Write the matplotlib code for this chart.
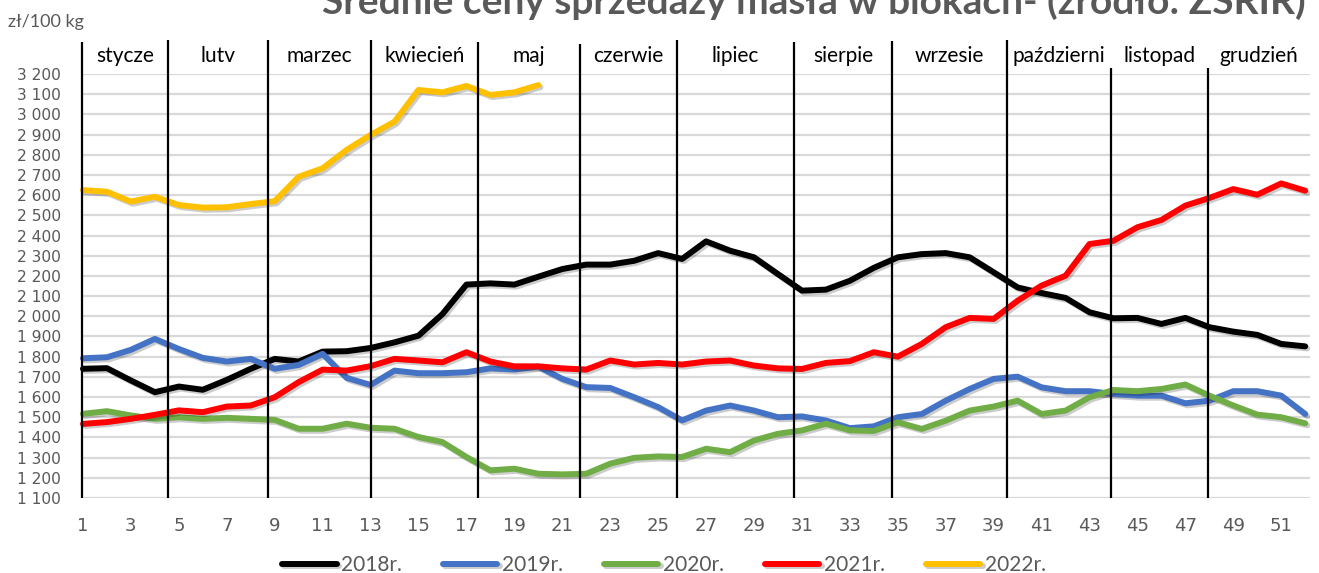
import matplotlib
matplotlib.use('Agg')
import matplotlib.pyplot as plt
import matplotlib.patheffects as pe

plt.rcParams['font.family'] = ['Lato', 'DejaVu Sans']

weeks = list(range(1, 53))
s2018 = [1740, 1743, 1682, 1624, 1652, 1636, 1685, 1740, 1789, 1776,
         1825, 1827, 1843, 1871, 1904, 2011, 2157, 2163, 2157, 2196,
         2234, 2256, 2256, 2275, 2313, 2284, 2371, 2325, 2292, 2209,
         2127, 2132, 2176, 2240, 2292, 2308, 2313, 2292, 2218, 2143,
         2115, 2091, 2020, 1990, 1992, 1962, 1992, 1946, 1924, 1908,
         1863, 1851]
s2019 = [1792, 1797, 1834, 1888, 1838, 1794, 1776, 1789, 1740, 1759,
         1814, 1695, 1660, 1731, 1718, 1718, 1723, 1742, 1736, 1751,
         1690, 1649, 1645, 1599, 1550, 1484, 1533, 1558, 1533, 1500,
         1504, 1484, 1446, 1455, 1500, 1516, 1582, 1640, 1690, 1701,
         1648, 1629, 1629, 1615, 1607, 1607, 1569, 1582, 1629, 1629,
         1607, 1516]
s2020 = [1517, 1530, 1509, 1492, 1500, 1492, 1497, 1492, 1487, 1443,
         1443, 1468, 1448, 1443, 1402, 1377, 1303, 1237, 1245, 1220,
         1217, 1220, 1270, 1299, 1306, 1303, 1344, 1327, 1385, 1418,
         1435, 1468, 1435, 1432, 1475, 1442, 1483, 1533, 1553, 1582,
         1516, 1533, 1599, 1635, 1629, 1640, 1662, 1607, 1558, 1513,
         1500, 1470]
s2021 = [1467, 1476, 1492, 1512, 1534, 1525, 1553, 1558, 1599, 1674,
         1736, 1731, 1753, 1789, 1781, 1772, 1822, 1776, 1752, 1752,
         1742, 1736, 1781, 1761, 1769, 1761, 1776, 1781, 1756, 1742,
         1739, 1769, 1778, 1822, 1800, 1863, 1946, 1992, 1987, 2077,
         2152, 2201, 2358, 2374, 2441, 2477, 2548, 2586, 2630, 2602,
         2658, 2622]
s2022 = [2625, 2617, 2568, 2592, 2551, 2538, 2540, 2556, 2570, 2691,
         2733, 2824, 2898, 2964, 3121, 3109, 3141, 3096, 3109, 3145]

series_labels = ['2018r.', '2019r.', '2020r.', '2021r.', '2022r.']
series_colors = ['#000000', '#4472C4', '#70AD47', '#FF0000', '#FFC000']

months = ['stycze', 'lutv', 'marzec', 'kwiecień', 'maj', 'czerwie',
          'lipiec', 'sierpie', 'wrzesie', 'październi', 'listopad', 'grudzień']
month_bounds = [0.96, 4.55, 8.72, 13.02, 17.49, 21.74, 25.79, 30.67,
                34.76, 39.56, 43.9, 47.95]
bound_tops = [3360, 3370, 3370, 3370, 3360, 3350, 3370, 3360, 3365, 3370, 3230, 3230]

title = 'Średnie ceny sprzedaży masła w blokach- (źródło: ZSRIR)'
unit = 'zł/100 kg'

W, H = 1319, 573
fig = plt.figure(figsize=(W / 100, H / 100), dpi=100)
ax = fig.add_axes([83 / W, (H - 498) / H, (1310 - 83) / W, (498 - 74) / H])
ax.set_xlim(1, 52.2)
ax.set_ylim(1100, 3200)
for s in ax.spines.values():
    s.set_visible(False)

ax.set_yticks(range(1100, 3201, 100))
ax.set_yticklabels([f'{v:,}'.replace(',', ' ') for v in range(1100, 3201, 100)],
                   family='DejaVu Sans')
ax.set_xticks(range(1, 52, 2))
ax.set_xticklabels([str(w) for w in range(1, 52, 2)], family='DejaVu Sans')
ax.tick_params(axis='y', length=0, pad=16, labelsize=11.2, labelcolor='#595959')
ax.tick_params(axis='x', length=0, pad=14, labelsize=13, labelcolor='#595959')
ax.yaxis.grid(True, color='#d9d9d9', lw=1.6)
ax.set_axisbelow(True)

shadow = [pe.SimpleLineShadow(offset=(1.5, -1.5), alpha=0.2, shadow_color='black'), pe.Normal()]
handles = []
for data, lab, col in zip([s2018, s2019, s2020, s2021, s2022], series_labels, series_colors):
    ln, = ax.plot(weeks[:len(data)], data, color=col, lw=4.3, label=lab,
                  solid_joinstyle='round', solid_capstyle='round',
                  path_effects=shadow, zorder=3, clip_on=False)
    handles.append(ln)

ax.vlines(month_bounds, 1100, bound_tops, color='black', lw=1.6, zorder=6, clip_on=False)

ends = month_bounds[1:] + [52.2]
for name, a, b in zip(months, month_bounds, ends):
    ax.text((a + b) / 2, 3290, name, ha='center', va='center', fontsize=15,
            color='black', clip_on=False)

fig.text(8 / W, 1 - 22 / H, unit, ha='left', va='center', fontsize=13, color='#595959')
fig.text(814 / W, 1 - 14 / H, title, ha='center', va='baseline', fontsize=28,
         fontweight='bold', color='#595959')

fig.legend(handles=handles, loc='center', bbox_to_anchor=(664 / W, 8 / H), ncol=5,
           frameon=False, fontsize=15, handlelength=2.6, handletextpad=0.2,
           columnspacing=2.0, labelcolor='#595959')

fig.savefig('out.png', dpi=100)
